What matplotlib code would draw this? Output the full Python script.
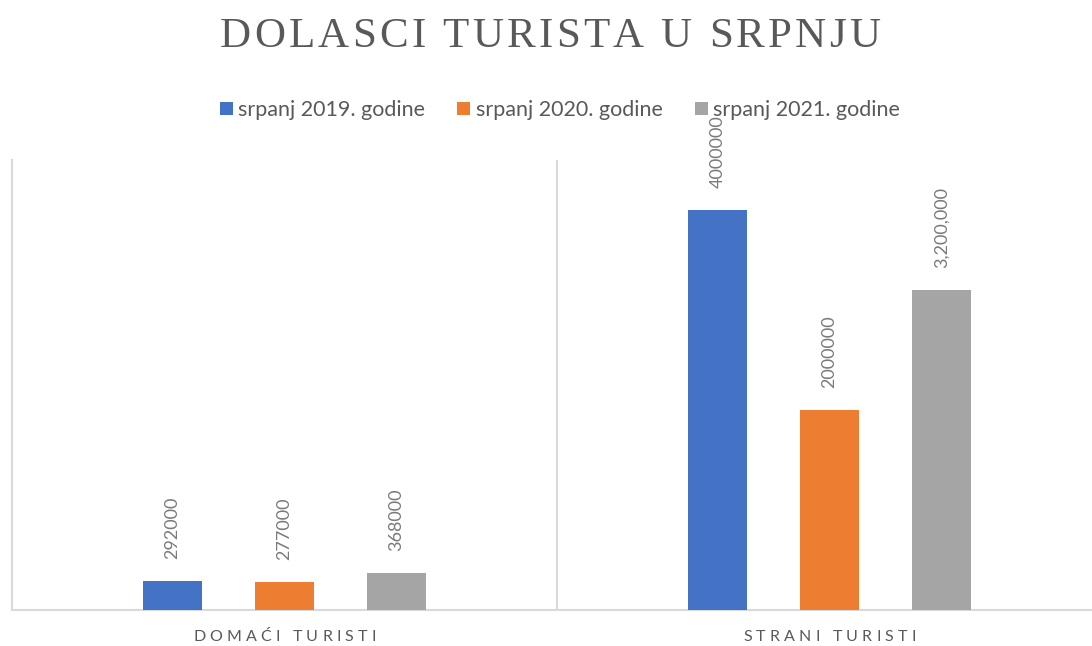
import numpy as np
import matplotlib.pyplot as plt
from matplotlib.font_manager import FontProperties, findfont, get_font

# podaci
kategorije = ['DOMAĆI TURISTI', 'STRANI TURISTI']
serije = ['srpanj 2019. godine', 'srpanj 2020. godine', 'srpanj 2021. godine']
vrijednosti_2019 = [292000, 4000000]
vrijednosti_2020 = [277000, 2000000]
vrijednosti_2021 = [368000, 3200000]
oznake_2019 = ['292000', '4000000']
oznake_2020 = ['277000', '2000000']
oznake_2021 = ['368000', '3,200,000']

boje = ['#4472c4', '#ed7d31', '#a5a5a5']
plt.rcParams['font.family'] = ['Lato', 'DejaVu Sans']

W, H = 1092, 646
fig = plt.figure(figsize=(W / 100, H / 100), dpi=100)
# plot area: x 12..1102 px, y 160..610 px
ax = fig.add_axes([12 / W, 36 / H, 1090 / W, 450 / H])


def razmaknuti_tekst(tekst, cx, y, razmak, size, family, color):
    # tekst s razmakom medu slovima, cx i y u pikselima od gornjeg lijevog kuta
    prop = FontProperties(family=family, size=size)
    font = get_font(findfont(prop))
    font.set_size(size, fig.dpi)
    adv = [font.load_char(ord(c)).linearHoriAdvance / 65536 for c in tekst]
    xx = cx - (sum(adv) + razmak * (len(tekst) - 1)) / 2
    for c, a in zip(tekst, adv):
        fig.text((xx + a / 2) / W, 1 - y / H, c, ha='center', va='baseline',
                 fontsize=size, family=[family, 'DejaVu Sans'], color=color)
        xx += a + razmak


x = np.arange(len(kategorije))
w = 0.11
pomak = 0.2055
podaci = [vrijednosti_2019, vrijednosti_2020, vrijednosti_2021]
oznake = [oznake_2019, oznake_2020, oznake_2021]
for i, (vals, labs) in enumerate(zip(podaci, oznake)):
    pos = x + (i - 1) * pomak
    ax.bar(pos, vals, w, color=boje[i], label=serije[i], zorder=3)
    for p, v, t in zip(pos, vals, labs):
        ax.annotate(t, (p, v), xytext=(0, 16), textcoords='offset points',
                    rotation=90, ha='center', va='bottom', fontsize=13,
                    color='#7a7a7a', annotation_clip=False)

ax.set_xlim(-0.5, 1.5)
ax.set_ylim(0, 4500000)
ax.set_yticks([])
ax.set_xticks([])
ax.axvline(0.5, color='#d9d9d9', lw=1.5, zorder=1)
for s in ['top', 'right']:
    ax.spines[s].set_visible(False)
for s in ['left', 'bottom']:
    ax.spines[s].set_color('#d9d9d9')
    ax.spines[s].set_linewidth(1.5)

# nazivi kategorija ispod osi
for xi, k in zip(x, kategorije):
    px = ax.transData.transform((xi, 0))[0]
    razmaknuti_tekst(k, px, 641, 4.2, 11.5, 'Lato', '#595959')

razmaknuti_tekst('DOLASCI TURISTA U SRPNJU', 550, 47, 3.2, 31, 'Liberation Serif', '#595959')

fig.legend(loc='center', bbox_to_anchor=(560 / W, 1 - 110 / H), ncol=3, frameon=False,
           fontsize=15.5, labelcolor='#595959', handlelength=0.6, handleheight=0.6,
           handletextpad=0.25, columnspacing=1.5)

fig.savefig('out.png', dpi=100)
